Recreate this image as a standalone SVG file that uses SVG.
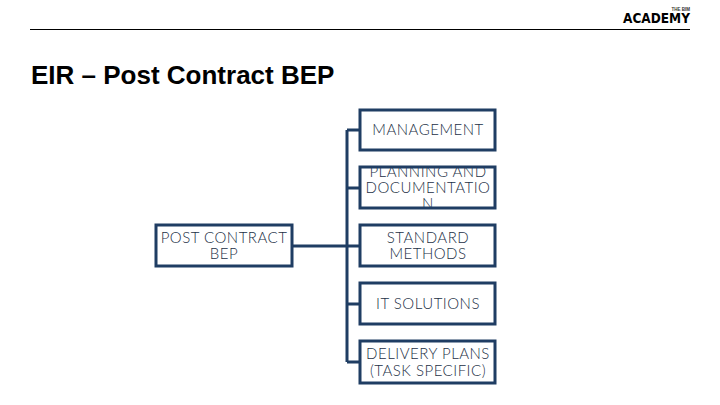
<svg xmlns="http://www.w3.org/2000/svg" width="720" height="405" viewBox="0 0 720 405">
<style>
.box{fill:#fff;stroke:#1f3d63;stroke-width:3}
.conn{fill:none;stroke:#1f3d63;stroke-width:3}
.t{font-family:"Lato","Open Sans",sans-serif;font-size:15px;letter-spacing:.5px;fill:#1c3046;text-anchor:middle;font-weight:300}
</style>
<rect width="720" height="405" fill="#fff"/>
<line x1="30" y1="29.5" x2="690" y2="29.5" stroke="#000" stroke-width="1"/>
<g id="logo">
<text x="690" y="10.5" font-family="Liberation Sans, sans-serif" font-size="4.5" font-weight="700" text-anchor="end" fill="#333">THE BIM</text>
<text x="623" y="23" font-family="DejaVu Sans, sans-serif" font-size="13.5" font-weight="700" fill="#000" textLength="67" lengthAdjust="spacingAndGlyphs">ACADEMY</text>
</g>
<text id="title" x="31" y="84" font-family="Liberation Sans, Arial, sans-serif" font-size="26" font-weight="700" fill="#000">EIR – Post Contract BEP</text>
<g id="connectors">
<path class="conn" d="M292 246H360M347 130V362M347 130H360M347 188H360M347 304H360M347 362H360"/>
</g>
<g id="root"><rect class="box" x="156" y="225" width="136" height="41"/><text class="t" x="224" y="243">POST CONTRACT</text><text class="t" x="224" y="259">BEP</text></g>
<g id="management"><rect class="box" x="360" y="110" width="135" height="40"/><text class="t" x="428" y="135">MANAGEMENT</text></g>
<g id="planning"><text class="t" x="428" y="177">PLANNING AND</text><text class="t" x="428" y="193">DOCUMENTATIO</text><text class="t" x="428" y="209">N</text><rect x="360" y="167" width="135" height="41" fill="none" stroke="#1f3d63" stroke-width="3"/></g>
<g id="standard"><rect class="box" x="360" y="225" width="135" height="41"/><text class="t" x="428" y="243">STANDARD</text><text class="t" x="428" y="259">METHODS</text></g>
<g id="it"><rect class="box" x="360" y="283" width="135" height="41"/><text class="t" x="428" y="309">IT SOLUTIONS</text></g>
<g id="delivery"><rect class="box" x="360" y="341" width="135" height="42"/><text class="t" x="428" y="359">DELIVERY PLANS</text><text class="t" x="428" y="375.5">(TASK SPECIFIC)</text></g>
</svg>
